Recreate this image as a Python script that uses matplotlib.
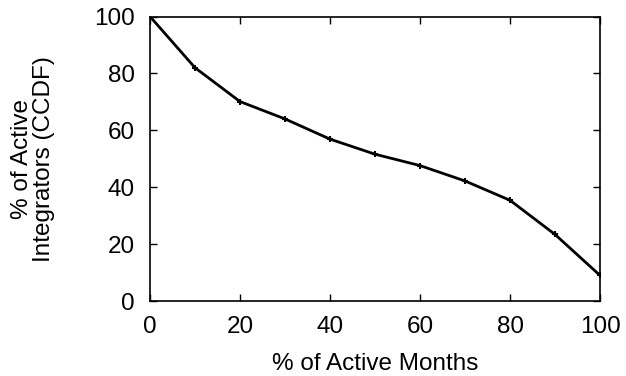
import matplotlib
matplotlib.use("Agg")
import matplotlib.pyplot as plt

# % of active months vs % of active integrators (CCDF)
months_pct = [0, 10, 20, 30, 40, 50, 60, 70, 80, 90, 100]
integrators_ccdf = [100, 82.0, 70.1, 64.0, 56.9, 51.6, 47.6, 42.2, 35.4, 23.4, 9.0]

plt.rcParams['font.family'] = ['Liberation Sans', 'DejaVu Sans']
plt.rcParams['font.size'] = 17.5

fig = plt.figure(figsize=(6.26, 3.76), dpi=100)
ax = fig.add_axes([150 / 626, 1 - 301 / 376, 450 / 626, 284.5 / 376])

ax.plot(months_pct, integrators_ccdf, color='black', lw=2, marker='+', ms=4, mew=1.5)

ax.set_xlim(0, 100)
ax.set_ylim(0, 100)
ax.set_xticks([0, 20, 40, 60, 80, 100])
ax.set_yticks([0, 20, 40, 60, 80, 100])
ax.tick_params(direction='in', top=True, right=True, length=5, width=1)
ax.tick_params(axis='x', pad=11)
ax.tick_params(axis='y', pad=11)
for s in ax.spines.values():
    s.set_linewidth(1.2)

ax.set_xlabel('% of Active Months')
ax.set_ylabel('% of Active\nIntegrators (CCDF)', linespacing=0.95)
# place axis titles where they sit in the reference
ax.xaxis.set_label_coords(0.5, (301 - 364) / 284.5)
ax.xaxis.label.set_va('center')
ax.yaxis.set_label_coords((33 - 150) / 450, 0.5)
ax.yaxis.label.set_va('center')

fig.savefig('out.png', dpi=100)
